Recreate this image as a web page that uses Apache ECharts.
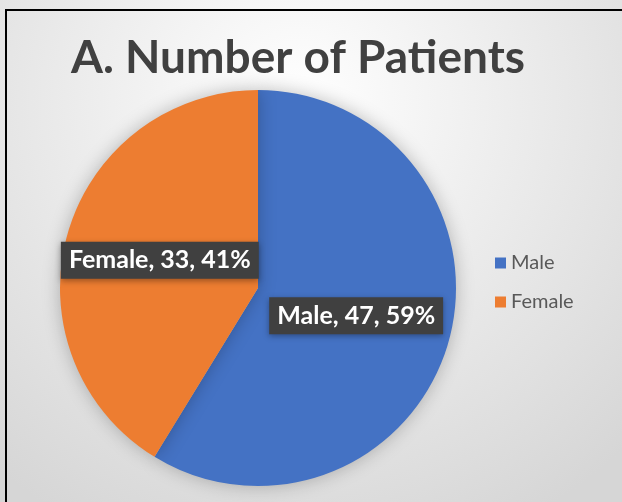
<!DOCTYPE html>
<html>
<head>
<meta charset="utf-8">
<script src="https://cdn.jsdelivr.net/npm/echarts@6/dist/echarts.min.js"></script>
<style>
  html, body { margin: 0; padding: 0; }
  #chart { width: 622px; height: 502px; }
</style>
</head>
<body>
<div id="chart"></div>
<script>
// chart data
const categories = ['Male', 'Female']
const patientCounts = [47, 33]
const sliceColors = ['#4472C4', '#ED7D31']

const chart = echarts.init(document.getElementById('chart'))

const option = {
  backgroundColor: {
    type: 'radial',
    x: 0.48, y: 0.2, r: 0.95,
    colorStops: [
      { offset: 0, color: '#ffffff' },
      { offset: 1, color: '#d6d6d6' }
    ]
  },
  title: {
    text: 'A. Number of Patients',
    left: 293,
    top: 30,
    textAlign: 'center',
    textStyle: {
      fontFamily: 'Lato',
      fontSize: 46,
      fontWeight: 'bold',
      color: '#404040'
    }
  },
  legend: {
    orient: 'vertical',
    left: 490,
    top: 248,
    itemWidth: 11,
    itemHeight: 11,
    itemGap: 19,
    icon: 'rect',
    data: categories,
    textStyle: {
      fontFamily: 'Lato',
      fontSize: 20,
      color: '#595959'
    }
  },
  graphic: [
    // black frame along top and left edges
    { type: 'rect', shape: { x: 5, y: 9, width: 617, height: 2 }, style: { fill: '#000' } },
    { type: 'rect', shape: { x: 5, y: 9, width: 2, height: 493 }, style: { fill: '#000' } }
  ],
  series: [
    {
      type: 'pie',
      center: [258, 288],
      radius: 198,
      startAngle: 90,
      clockwise: true,
      animation: false,
      data: categories.map((name, i) => ({
        name: name,
        value: patientCounts[i],
        itemStyle: { color: sliceColors[i] }
      })),
      itemStyle: {
        shadowBlur: 18,
        shadowColor: 'rgba(0, 0, 0, 0.25)'
      },
      label: {
        position: 'inside',
        formatter: params => `${params.name}, ${params.value}, ${Math.round(params.percent)}%`,
        fontFamily: 'Lato',
        fontSize: 25,
        fontWeight: 'bold',
        color: '#ffffff',
        backgroundColor: '#404040',
        padding: [7, 8, 5, 8],
        shadowBlur: 6,
        shadowOffsetY: 2,
        shadowColor: 'rgba(0, 0, 0, 0.35)'
      },
      labelLine: { show: false },
      emphasis: { disabled: true }
    }
  ]
}

chart.setOption(option)
</script>
</body>
</html>
